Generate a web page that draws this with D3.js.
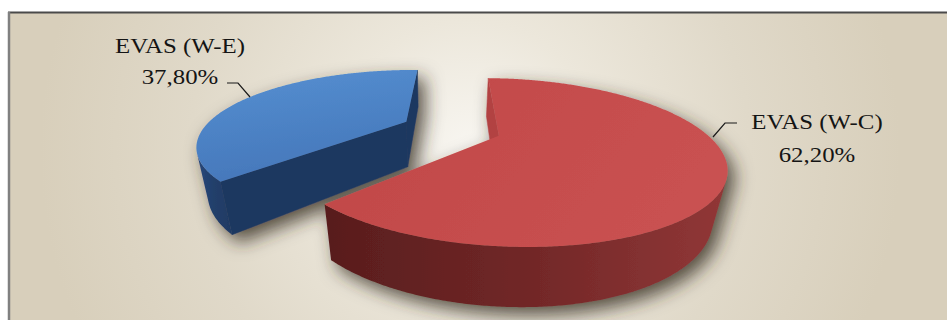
<!DOCTYPE html>
<html><head><meta charset="utf-8">
<script src="https://cdn.jsdelivr.net/npm/d3@7"></script>
<style>html,body{margin:0;padding:0;background:#fff;overflow:hidden}
text{font-family:"Liberation Serif","DejaVu Serif",serif}</style>
</head><body>
<svg id="chart" width="947" height="320"></svg>
<script>
// ---------- data ----------
const categories = ["EVAS (W-C)", "EVAS (W-E)"];
const values = [62.2, 37.8];
const valueLabels = ["62,20%", "37,80%"];

// ---------- layout / style ----------
const W = 947, H = 320, DEG = Math.PI / 180;
const cam = {f: 565.9166, dist: 1.8901, tilt: 0.5446, px: 437.3496, py: 238.7535};
const pieCenter = {x: 0.2936, z: -0.9484};
const thickness = 0.2477;
const explode = [0, 0.4913];
const firstAngle = 1.49 * DEG;
const sliceStyle = [
  {top: ["#c04747", "#c95151"], wall: ["#581d1d", "#712727", "#913737"], cut: "#b24242"},
  {top: ["#5690d2", "#4577ba"], wall: ["#27477a", "#223f6a", "#1f3a63"], cut: "#1d3860"}
];
const labelStyle = [
  {x: 817, y1: 129, y2: 162, leader: [[737, 123], [725, 123], [713, 137]]},
  {x: 180, y1: 53, y2: 84, leader: [[227, 83], [238, 83], [250, 97]]}
];

const svg = d3.select("#chart");
const defs = svg.append("defs");

const bg = defs.append("radialGradient").attr("id", "bg").attr("gradientUnits", "userSpaceOnUse")
  .attr("cx", 470).attr("cy", 150).attr("r", 430);
[[0, "#f8f6f1"], [0.3, "#ece7db"], [0.65, "#e0d9c9"], [1, "#d8cfbb"]].forEach(([o, c]) =>
  bg.append("stop").attr("offset", o).attr("stop-color", c));

const flt = defs.append("filter").attr("id", "shadow").attr("x", "-20%").attr("y", "-20%").attr("width", "140%").attr("height", "160%");
flt.append("feGaussianBlur").attr("in", "SourceAlpha").attr("stdDeviation", 9);
flt.append("feOffset").attr("dx", 7).attr("dy", 8).attr("result", "b");
flt.append("feFlood").attr("flood-color", "#342c20").attr("flood-opacity", 0.8);
flt.append("feComposite").attr("in2", "b").attr("operator", "in");
const mg = flt.append("feMerge");
mg.append("feMergeNode");
mg.append("feMergeNode").attr("in", "SourceGraphic");

sliceStyle.forEach((s, i) => {
  const g1 = defs.append("linearGradient").attr("id", "top" + i).attr("x1", 0).attr("y1", 0).attr("x2", i === 0 ? 1 : 0.3).attr("y2", i === 0 ? 0.3 : 1);
  g1.append("stop").attr("offset", 0).attr("stop-color", s.top[0]);
  g1.append("stop").attr("offset", 1).attr("stop-color", s.top[1]);
  const g2 = defs.append("linearGradient").attr("id", "wall" + i).attr("x1", 0).attr("y1", 0).attr("x2", 1).attr("y2", 0);
  s.wall.forEach((c, k) => g2.append("stop").attr("offset", k / (s.wall.length - 1)).attr("stop-color", c));
});

// background & frame
svg.append("rect").attr("x", 0).attr("y", 0).attr("width", W).attr("height", H).attr("fill", "#fff");
svg.append("rect").attr("x", 8).attr("y", 12).attr("width", W - 8).attr("height", H - 12).attr("fill", "url(#bg)");
svg.append("line").attr("x1", 8).attr("x2", W).attr("y1", 12.5).attr("y2", 12.5).attr("stroke", "#4a4a4a").attr("stroke-width", 2);
svg.append("line").attr("x1", 9).attr("x2", 9).attr("y1", 12).attr("y2", H).attr("stroke", "#808080").attr("stroke-width", 2.5);

// ---------- 3D projection ----------
const sinT = Math.sin(cam.tilt), cosT = Math.cos(cam.tilt);
const camPos = [0, cam.dist * sinT, cam.dist * cosT];
function project(p) {
  const [X, Y, Z] = p;
  const yp = Y * cosT - Z * sinT, zp = Y * sinT + Z * cosT, dp = cam.dist - zp;
  return [cam.px + cam.f * X / dp, cam.py - cam.f * yp / dp];
}
function facing(P, n) {
  return (camPos[0] - P[0]) * n[0] + (camPos[1] - P[1]) * n[1] + (camPos[2] - P[2]) * n[2] > 0;
}
const line = d3.line();
const poly = pts => line(pts.map(project)) + "Z";

const pie = d3.pie().sort(null).value(d => d).startAngle(firstAngle).endAngle(firstAngle + 2 * Math.PI);
const arcs = pie(values);

const pieG = svg.append("g").attr("filter", "url(#shadow)");
const h = thickness;
// draw the back (exploded) slice first, then the front one
[1, 0].forEach(i => {
  const a = arcs[i], a0 = a.startAngle, a1 = a.endAngle, mid = (a0 + a1) / 2;
  const c = [pieCenter.x + explode[i] * Math.sin(mid), pieCenter.z - explode[i] * Math.cos(mid)];
  const rim = (ang, y) => [c[0] + Math.sin(ang), y, c[1] - Math.cos(ang)];
  const ctr = y => [c[0], y, c[1]];
  const g = pieG.append("g").attr("class", "slice");
  const st = sliceStyle[i];
  // radial cut faces
  [[a0, -1], [a1, 1]].forEach(([ang, sgn]) => {
    const n = [sgn * Math.cos(ang), 0, sgn * Math.sin(ang)];
    const P = [c[0] + 0.5 * Math.sin(ang), -h / 2, c[1] - 0.5 * Math.cos(ang)];
    if (facing(P, n)) {
      g.append("path").attr("d", poly([ctr(0), rim(ang, 0), rim(ang, -h), ctr(-h)]))
        .attr("fill", st.cut).attr("stroke", st.cut).attr("stroke-width", 0.5);
    }
  });
  // outer wall
  const N = Math.ceil((a1 - a0) / (0.5 * DEG));
  const angs = d3.range(N + 1).map(k => a0 + (a1 - a0) * k / N);
  const runs = []; let cur = null;
  for (let k = 0; k < N; k++) {
    const am = (angs[k] + angs[k + 1]) / 2;
    const vis = facing(rim(am, -h / 2), [Math.sin(am), 0, -Math.cos(am)]);
    if (vis) { if (!cur) { cur = [angs[k]]; runs.push(cur); } cur.push(angs[k + 1]); } else cur = null;
  }
  runs.forEach(r => {
    const pts = r.map(an => rim(an, 0)).concat(r.slice().reverse().map(an => rim(an, -h)));
    g.append("path").attr("d", poly(pts)).attr("fill", `url(#wall${i})`);
  });
  // top face
  g.append("path").attr("d", poly([ctr(0)].concat(angs.map(an => rim(an, 0)))))
    .attr("fill", `url(#top${i})`);
});

// ---------- labels ----------
categories.forEach((cat, i) => {
  const ls = labelStyle[i];
  svg.append("path").attr("d", d3.line()(ls.leader)).attr("fill", "none").attr("stroke", "#1a1a1a").attr("stroke-width", 1.2);
  [[cat, ls.y1], [valueLabels[i], ls.y2]].forEach(([t, y]) => {
    svg.append("text").attr("transform", `translate(${ls.x},${y}) scale(1.13,1)`)
      .attr("text-anchor", "middle")
      .style("font-family", "'Liberation Serif', 'DejaVu Serif', serif")
      .attr("font-size", 22).attr("fill", "#141414").text(t);
  });
});
</script></body></html>
